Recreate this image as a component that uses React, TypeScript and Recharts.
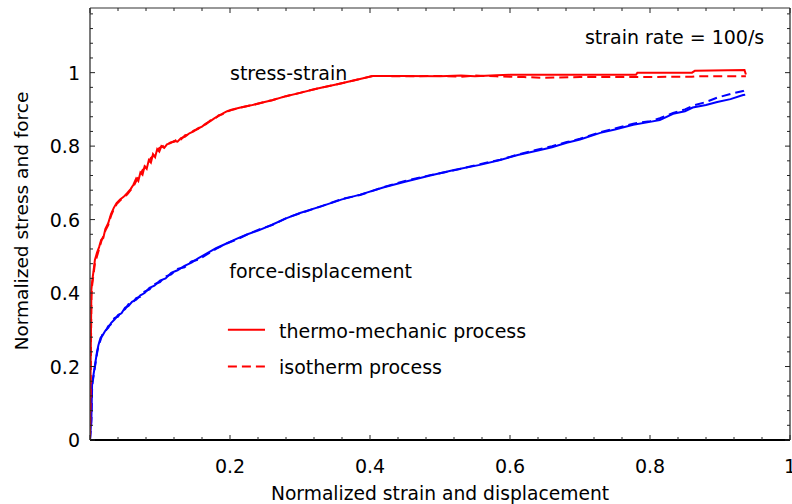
import React from 'react';
import { LineChart, Line, XAxis, YAxis, ReferenceLine, ReferenceDot } from 'recharts';

const FONT = '"DejaVu Sans", "Liberation Sans", Arial, sans-serif';

// ---- stress-strain (red) ----
const stressX = [
  0, 0.001, 0.002, 0.003, 0.005, 0.007, 0.010, 0.013, 0.016, 0.019, 0.022, 0.026, 0.030, 0.034, 0.038,
  0.043, 0.048, 0.053, 0.058, 0.062, 0.066, 0.069, 0.072, 0.075, 0.078, 0.081, 0.084, 0.087, 0.090,
  0.093, 0.096, 0.099, 0.102, 0.106, 0.110, 0.115, 0.120, 0.125, 0.130, 0.136, 0.142, 0.148, 0.154,
  0.160, 0.166, 0.172, 0.178, 0.184, 0.190, 0.196, 0.202, 0.215, 0.230, 0.245, 0.260, 0.280, 0.300,
  0.325, 0.350, 0.375, 0.404, 0.45, 0.50, 0.53, 0.55, 0.58, 0.60, 0.62, 0.65, 0.70, 0.780, 0.782,
  0.860, 0.864, 0.935, 0.937,
];
const stressThermo = [
  0, 0.22, 0.41, 0.43, 0.46, 0.49, 0.51, 0.525, 0.545, 0.55, 0.575, 0.59, 0.615, 0.632, 0.645,
  0.655, 0.662, 0.672, 0.683, 0.695, 0.712, 0.705, 0.728, 0.722, 0.745, 0.738, 0.762, 0.755, 0.778,
  0.770, 0.792, 0.785, 0.800, 0.795, 0.805, 0.808, 0.814, 0.812, 0.822, 0.826, 0.835, 0.840, 0.848,
  0.853, 0.862, 0.868, 0.876, 0.882, 0.889, 0.895, 0.899, 0.905, 0.911, 0.918, 0.925, 0.936, 0.945,
  0.957, 0.967, 0.978, 0.991, 0.991, 0.990, 0.992, 0.990, 0.993, 0.994, 0.994, 0.994, 0.994, 0.994, 1.000,
  1.000, 1.005, 1.007, 0.995,
];
const stressIso = [
  0, 0.17, 0.39, 0.42, 0.45, 0.48, 0.50, 0.52, 0.54, 0.555, 0.57, 0.585, 0.61, 0.628, 0.642,
  0.652, 0.66, 0.668, 0.68, 0.69, 0.705, 0.715, 0.722, 0.735, 0.74, 0.752, 0.758, 0.768, 0.772,
  0.785, 0.788, 0.795, 0.798, 0.802, 0.804, 0.810, 0.812, 0.820, 0.818, 0.830, 0.832, 0.842, 0.846,
  0.856, 0.860, 0.870, 0.874, 0.884, 0.887, 0.894, 0.898, 0.905, 0.911, 0.918, 0.925, 0.936, 0.945,
  0.957, 0.967, 0.978, 0.991, 0.990, 0.991, 0.989, 0.992, 0.990, 0.989, 0.988, 0.986, 0.988, 0.988, 0.988,
  0.989, 0.990, 0.990, 0.990,
];

// ---- force-displacement (blue) ----
const forceX = [
  0, 0.002, 0.003, 0.004, 0.006, 0.008, 0.010, 0.012, 0.015, 0.018, 0.022, 0.026, 0.030, 0.035, 0.040,
  0.045, 0.050, 0.055, 0.060, 0.066, 0.072, 0.078, 0.085, 0.092, 0.100, 0.108, 0.116, 0.125, 0.135,
  0.145, 0.155, 0.167, 0.180, 0.195, 0.21, 0.225, 0.24, 0.26, 0.281, 0.30, 0.33, 0.36, 0.386, 0.42,
  0.45, 0.486, 0.52, 0.557, 0.586, 0.611, 0.64, 0.66, 0.681, 0.70, 0.729, 0.75, 0.776, 0.80, 0.814,
  0.833, 0.85, 0.861, 0.88, 0.896, 0.915, 0.933, 0.936,
];
const forceThermo = [
  0, 0.06, 0.155, 0.165, 0.19, 0.215, 0.24, 0.258, 0.278, 0.285, 0.298, 0.305, 0.318, 0.328, 0.34,
  0.345, 0.36, 0.365, 0.376, 0.382, 0.394, 0.40, 0.414, 0.42, 0.434, 0.44, 0.455, 0.462, 0.474,
  0.483, 0.495, 0.508, 0.522, 0.535, 0.548, 0.56, 0.57, 0.586, 0.604, 0.618, 0.636, 0.655, 0.668, 0.688,
  0.703, 0.72, 0.735, 0.749, 0.762, 0.776, 0.788, 0.797, 0.809, 0.818, 0.836, 0.845, 0.858, 0.866, 0.871,
  0.888, 0.895, 0.905, 0.912, 0.92, 0.928, 0.939, 0.94,
];
const forceIso = [
  0, 0.05, 0.14, 0.16, 0.185, 0.21, 0.235, 0.255, 0.272, 0.29, 0.295, 0.31, 0.315, 0.332, 0.336,
  0.35, 0.356, 0.37, 0.372, 0.386, 0.39, 0.404, 0.41, 0.424, 0.43, 0.445, 0.451, 0.466, 0.47,
  0.486, 0.491, 0.505, 0.52, 0.535, 0.546, 0.56, 0.572, 0.585, 0.605, 0.617, 0.636, 0.656, 0.667, 0.689,
  0.705, 0.721, 0.734, 0.751, 0.763, 0.777, 0.791, 0.80, 0.811, 0.82, 0.838, 0.848, 0.861, 0.868, 0.876,
  0.89, 0.90, 0.91, 0.92, 0.932, 0.942, 0.95, 0.953,
];

// ---- ticks ----
const xTicks = [
  0, 0.04, 0.08, 0.12, 0.16, 0.2, 0.24, 0.28, 0.32, 0.36, 0.4, 0.44, 0.48, 0.52, 0.56, 0.6,
  0.64, 0.68, 0.72, 0.76, 0.8, 0.84, 0.88, 0.92, 0.96, 1,
];
const yTicks = [
  0, 0.04, 0.08, 0.12, 0.16, 0.2, 0.24, 0.28, 0.32, 0.36, 0.4, 0.44, 0.48, 0.52, 0.56, 0.6,
  0.64, 0.68, 0.72, 0.76, 0.8, 0.84, 0.88, 0.92, 0.96, 1, 1.04, 1.08, 1.12, 1.16,
];
const xLabelTicks = [0.2, 0.4, 0.6, 0.8, 1];
const yLabelTicks = [0, 0.2, 0.4, 0.6, 0.8, 1];

const xTitle = 'Normalized strain and displacement';
const yTitle = 'Normalized stress and force';

const notes = [
  { x: 0.2, y: 0.98, text: 'stress-strain' },
  { x: 0.199, y: 0.442, text: 'force-displacement' },
  { x: 0.27, y: 0.279, text: 'thermo-mechanic process' },
  { x: 0.27, y: 0.18, text: 'isotherm process' },
  { x: 0.707, y: 1.078, text: 'strain rate = 100/s' },
];
const legendX = [0.197, 0.25];
const legendSolidY = 0.3;
const legendDashY = 0.2;

const RED = '#ff0000';
const BLUE = '#0000ff';
const DASH = '9 5';

const rows = (xs: number[], ys: number[]) => xs.map((x, i) => ({ x, y: ys[i] }));
const isMajor = (v: number) => Math.round(v * 100) % 20 === 0;
const inList = (v: number, list: number[]) => list.some((t) => Math.abs(t - v) < 1e-9);
const fmt = (v: number) => String(Math.round(v * 10) / 10);

const TICK_COLOR = '#222';

const BottomTick = (p: any) => {
  const { x, y, payload } = p;
  const v = payload.value;
  return (
    <g>
      <line x1={x} x2={x} y1={y} y2={y - (isMajor(v) ? 5 : 3)} stroke={TICK_COLOR} strokeWidth={1} />
      {inList(v, xLabelTicks) && (
        <text x={x} y={y + 33} textAnchor="middle" fontSize={19} fontFamily={FONT} fill="#000">
          {fmt(v)}
        </text>
      )}
    </g>
  );
};
const TopTick = (p: any) => {
  const { x, y, payload } = p;
  const v = payload.value;
  return <line x1={x} x2={x} y1={y} y2={y + (isMajor(v) ? 5 : 3)} stroke={TICK_COLOR} strokeWidth={1} />;
};
const LeftTick = (p: any) => {
  const { x, y, payload } = p;
  const v = payload.value;
  return (
    <g>
      <line x1={x} x2={x + (isMajor(v) ? 5 : 3)} y1={y} y2={y} stroke={TICK_COLOR} strokeWidth={1} />
      {inList(v, yLabelTicks) && (
        <text x={x - 10} y={y + 7} textAnchor="end" fontSize={19} fontFamily={FONT} fill="#000">
          {fmt(v)}
        </text>
      )}
    </g>
  );
};
const RightTick = (p: any) => {
  const { x, y, payload } = p;
  const v = payload.value;
  return <line x1={x} x2={x - (isMajor(v) ? 5 : 3)} y1={y} y2={y} stroke={TICK_COLOR} strokeWidth={1} />;
};

const XTitle = (p: any) => {
  const vb = p.viewBox || { x: 90, y: 440, width: 700, height: 64 };
  return (
    <text x={vb.x + vb.width / 2} y={vb.y + 60} textAnchor="middle" fontSize={18.7} fontFamily={FONT} fill="#000">
      {xTitle}
    </text>
  );
};
const YTitle = (p: any) => {
  const vb = p.viewBox || { x: 0, y: 8, width: 90, height: 432 };
  const cx = vb.x + 27.5;
  const cy = vb.y + vb.height / 2 - 3;
  return (
    <text
      x={cx}
      y={cy}
      transform={`rotate(-90, ${cx}, ${cy})`}
      textAnchor="middle"
      fontSize={18.5}
      fontFamily={FONT}
      fill="#000"
    >
      {yTitle}
    </text>
  );
};

const noteShape = (text: string) => (p: any) => (
  <text x={p.cx} y={p.cy} textAnchor="start" fontSize={19} fontFamily={FONT} fill="#000">
    {text}
  </text>
);

export default function App() {
  return (
    <div style={{ position: 'absolute', left: 0, top: 0, width: 792, height: 504, background: '#fff' }}>
      <LineChart width={792} height={504} margin={{ top: 0, right: 0, bottom: 0, left: 0 }}>
        <XAxis
          xAxisId="b"
          dataKey="x"
          type="number"
          domain={[0, 1]}
          ticks={xTicks}
          interval={0}
          tickSize={0}
          tickMargin={0}
          tickLine={false}
          axisLine={{ stroke: '#000', strokeWidth: 2 }}
          height={64}
          tick={BottomTick}
          label={XTitle}
          allowDataOverflow
        />
        <XAxis
          xAxisId="t"
          orientation="top"
          dataKey="x"
          type="number"
          domain={[0, 1]}
          ticks={xTicks}
          interval={0}
          tickSize={0}
          tickMargin={0}
          tickLine={false}
          axisLine={{ stroke: '#333', strokeWidth: 1.2 }}
          height={8}
          tick={TopTick}
          allowDataOverflow
        />
        <YAxis
          yAxisId="l"
          type="number"
          domain={[0, 1.176]}
          ticks={yTicks}
          interval={0}
          tickSize={0}
          tickMargin={0}
          tickLine={false}
          axisLine={{ stroke: '#333', strokeWidth: 1.3 }}
          width={90}
          tick={LeftTick}
          label={YTitle}
          allowDataOverflow
        />
        <YAxis
          yAxisId="r"
          orientation="right"
          type="number"
          domain={[0, 1.176]}
          ticks={yTicks}
          interval={0}
          tickSize={0}
          tickMargin={0}
          tickLine={false}
          axisLine={{ stroke: '#333', strokeWidth: 1.3 }}
          width={2}
          tick={RightTick}
          allowDataOverflow
        />

        <Line
          xAxisId="b"
          yAxisId="l"
          data={rows(forceX, forceIso)}
          dataKey="y"
          type="linear"
          dot={false}
          stroke={BLUE}
          strokeWidth={2}
          strokeDasharray={DASH}
          isAnimationActive={false}
        />
        <Line
          xAxisId="b"
          yAxisId="l"
          data={rows(forceX, forceThermo)}
          dataKey="y"
          type="linear"
          dot={false}
          stroke={BLUE}
          strokeWidth={2}
          isAnimationActive={false}
        />
        <Line
          xAxisId="b"
          yAxisId="l"
          data={rows(stressX, stressIso)}
          dataKey="y"
          type="linear"
          dot={false}
          stroke={RED}
          strokeWidth={2}
          strokeDasharray={DASH}
          isAnimationActive={false}
        />
        <Line
          xAxisId="b"
          yAxisId="l"
          data={rows(stressX, stressThermo)}
          dataKey="y"
          type="linear"
          dot={false}
          stroke={RED}
          strokeWidth={2}
          isAnimationActive={false}
        />

        <ReferenceLine
          xAxisId="b"
          yAxisId="l"
          segment={[
            { x: legendX[0], y: legendSolidY },
            { x: legendX[1], y: legendSolidY },
          ]}
          stroke={RED}
          strokeWidth={2}
        />
        <ReferenceLine
          xAxisId="b"
          yAxisId="l"
          segment={[
            { x: legendX[0], y: legendDashY },
            { x: legendX[1], y: legendDashY },
          ]}
          stroke={RED}
          strokeWidth={2}
          strokeDasharray={DASH}
        />
        {notes.map((n) => (
          <ReferenceDot
            key={n.text}
            xAxisId="b"
            yAxisId="l"
            x={n.x}
            y={n.y}
            r={1}
            shape={noteShape(n.text)}
          />
        ))}
      </LineChart>
    </div>
  );
}
